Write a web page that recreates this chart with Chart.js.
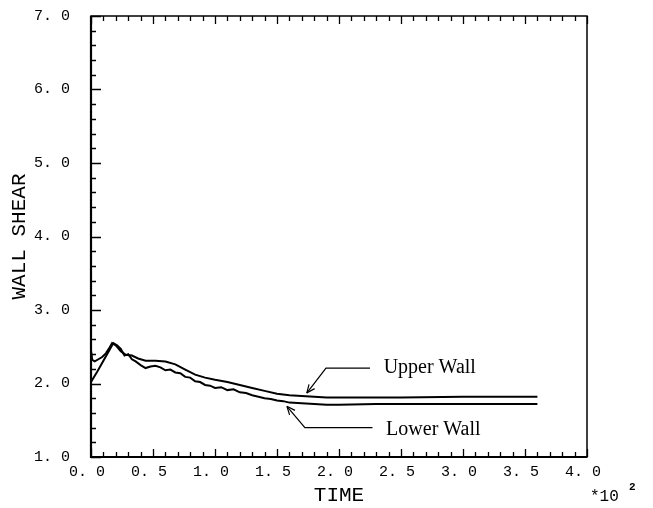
<!DOCTYPE html>
<html>
<head>
<meta charset="utf-8">
<script src="https://cdn.jsdelivr.net/npm/chart.js@4.4.1/dist/chart.umd.min.js"></script>
<style>
  html, body { margin: 0; padding: 0; background: #fff; }
  #wrap { width: 653px; height: 508px; }
</style>
</head>
<body>
<div id="wrap"><canvas id="shearChart" width="653" height="508"></canvas></div>
<script>
// time is in units of 10^2
const timeUpper = [0, 0.01, 0.03, 0.06, 0.09, 0.12, 0.15, 0.17, 0.2, 0.24, 0.28, 0.33, 0.38, 0.44, 0.52, 0.6, 0.68, 0.76, 0.84, 0.92, 1.0, 1.1, 1.2, 1.3, 1.4, 1.5, 1.6, 1.7, 1.8, 1.9, 2.0, 2.2, 2.5, 3.0, 3.6];
const upperWall = [2.45, 2.32, 2.30, 2.33, 2.36, 2.41, 2.49, 2.55, 2.52, 2.44, 2.39, 2.38, 2.34, 2.31, 2.31, 2.30, 2.26, 2.19, 2.12, 2.08, 2.05, 2.02, 1.98, 1.94, 1.90, 1.86, 1.84, 1.83, 1.82, 1.81, 1.81, 1.81, 1.81, 1.82, 1.82];

const timeLower = [0, 0.05, 0.1, 0.15, 0.18, 0.21, 0.24, 0.27, 0.3, 0.33, 0.36, 0.4, 0.44, 0.48, 0.52, 0.56, 0.6, 0.64, 0.68, 0.72, 0.76, 0.8, 0.84, 0.88, 0.92, 0.96, 1.0, 1.05, 1.1, 1.15, 1.2, 1.25, 1.3, 1.35, 1.4, 1.45, 1.5, 1.55, 1.6, 1.7, 1.8, 1.9, 2.0, 2.3, 2.8, 3.6];
const lowerWall = [2.02, 2.16, 2.31, 2.46, 2.55, 2.52, 2.47, 2.38, 2.40, 2.33, 2.30, 2.25, 2.21, 2.23, 2.24, 2.22, 2.18, 2.19, 2.15, 2.14, 2.09, 2.08, 2.03, 2.02, 1.98, 1.97, 1.94, 1.95, 1.91, 1.92, 1.88, 1.87, 1.84, 1.82, 1.80, 1.79, 1.77, 1.76, 1.74, 1.73, 1.72, 1.71, 1.71, 1.72, 1.72, 1.72];

const xTickLabels = ['0. 0', '0. 5', '1. 0', '1. 5', '2. 0', '2. 5', '3. 0', '3. 5', '4. 0'];
const yTickLabels = ['1. 0', '2. 0', '3. 0', '4. 0', '5. 0', '6. 0', '7. 0'];

// leader lines for the two labels, in data units: text pos, corner, end of flat line, arrow tip
const callouts = [
  { text: 'Upper Wall', tx: 2.36, ty: 2.21, cx: 1.895, cy: 2.21, ex: 2.25, tipX: 1.74, tipY: 1.87 },
  { text: 'Lower Wall', tx: 2.38, ty: 1.37, cx: 1.725, cy: 1.40, ex: 2.27, tipX: 1.58, tipY: 1.69 }
];

const toPoints = (xs, ys) => xs.map((x, i) => ({ x, y: ys[i] }));
const onStep = (v, step) => Math.abs(v / step - Math.round(v / step)) < 1e-6;

const axisFont = { family: 'Liberation Mono', size: 15 };
const titleFont = { family: 'Liberation Mono', size: 21 };

const frame = {
  id: 'frame',
  afterDraw(chart) {
    const { ctx, chartArea: a, scales: { x, y } } = chart;
    ctx.save();
    ctx.strokeStyle = '#000';
    ctx.lineWidth = 1.3;
    ctx.beginPath();
    x.ticks.forEach(t => {
      const px = Math.round(x.getPixelForValue(t.value)) + 0.5;
      const len = onStep(t.value, 0.5) ? 8 : 5;
      ctx.moveTo(px, a.bottom); ctx.lineTo(px, a.bottom - len);
      ctx.moveTo(px, a.top); ctx.lineTo(px, a.top + len);
    });
    y.ticks.forEach(t => {
      const py = Math.round(y.getPixelForValue(t.value)) + 0.5;
      const len = onStep(t.value, 1) ? 10 : 5;
      ctx.moveTo(a.left, py); ctx.lineTo(a.left + len, py);
    });
    ctx.stroke();

    ctx.lineWidth = 1.5;
    ctx.strokeRect(a.left, a.top, a.right - a.left, a.bottom - a.top);
    ctx.lineWidth = 2.2;
    ctx.beginPath();
    ctx.moveTo(a.left, a.top); ctx.lineTo(a.left, a.bottom); ctx.lineTo(a.right, a.bottom);
    ctx.stroke();

    // callouts
    ctx.lineWidth = 1.2;
    ctx.font = '20px "Liberation Serif"';
    ctx.fillStyle = '#000';
    ctx.textBaseline = 'middle';
    callouts.forEach(c => {
      const tip = [x.getPixelForValue(c.tipX), y.getPixelForValue(c.tipY)];
      const corner = [x.getPixelForValue(c.cx), y.getPixelForValue(c.cy)];
      const end = x.getPixelForValue(c.ex);
      ctx.beginPath();
      ctx.moveTo(end, corner[1]);
      ctx.lineTo(corner[0], corner[1]);
      ctx.lineTo(tip[0], tip[1]);
      ctx.stroke();
      const ang = Math.atan2(tip[1] - corner[1], tip[0] - corner[0]);
      ctx.beginPath();
      [0.4, -0.4].forEach(d => {
        ctx.moveTo(tip[0], tip[1]);
        ctx.lineTo(tip[0] - 9 * Math.cos(ang + d), tip[1] - 9 * Math.sin(ang + d));
      });
      ctx.stroke();
      ctx.fillText(c.text, x.getPixelForValue(c.tx), y.getPixelForValue(c.ty));
    });

    // exponent marker
    ctx.font = '16px "Liberation Mono"';
    ctx.fillText('*10', a.right + 3, a.bottom + 40);
    ctx.font = 'bold 11px "Liberation Mono"';
    ctx.fillText('2', a.right + 42, a.bottom + 30);
    ctx.restore();
  }
};

new Chart(document.getElementById('shearChart'), {
  type: 'scatter',
  data: {
    datasets: [
      { label: 'Upper Wall', data: toPoints(timeUpper, upperWall) },
      { label: 'Lower Wall', data: toPoints(timeLower, lowerWall) }
    ]
  },
  options: {
    responsive: false,
    animation: false,
    showLine: true,
    layout: { padding: { left: 0, top: 16, right: 66, bottom: 0 } },
    elements: {
      line: { borderColor: '#000', borderWidth: 2, tension: 0 },
      point: { radius: 0 }
    },
    plugins: { legend: { display: false }, tooltip: { enabled: false } },
    scales: {
      x: {
        type: 'linear',
        min: 0, max: 4,
        afterFit: s => { s.height = 51; s.paddingLeft = 0; s.paddingRight = 0; },
        grid: { display: false, drawTicks: false },
        border: { display: false },
        ticks: {
          stepSize: 0.1, autoSkip: false, maxRotation: 0, minRotation: 0,
          padding: 6, labelOffset: -4, color: '#000', font: axisFont,
          callback: v => onStep(v, 0.5) ? xTickLabels[Math.round(v / 0.5)] : ''
        },
        title: {
          display: true, text: 'TIME', color: '#000', font: titleFont,
          padding: { top: 0, bottom: 0 }
        }
      },
      y: {
        min: 1, max: 7,
        afterFit: s => { s.width = 91; s.paddingTop = 0; s.paddingBottom = 0; },
        grid: { display: false, drawTicks: false },
        border: { display: false },
        ticks: {
          stepSize: 0.2, autoSkip: false, padding: 21, color: '#000', font: axisFont,
          callback: v => onStep(v, 1) ? yTickLabels[Math.round(v) - 1] : ''
        },
        title: {
          display: true, text: 'WALL SHEAR', color: '#000', font: titleFont,
          padding: { top: 7, bottom: 0 }
        }
      }
    }
  },
  plugins: [frame]
});
</script>
</body>
</html>
